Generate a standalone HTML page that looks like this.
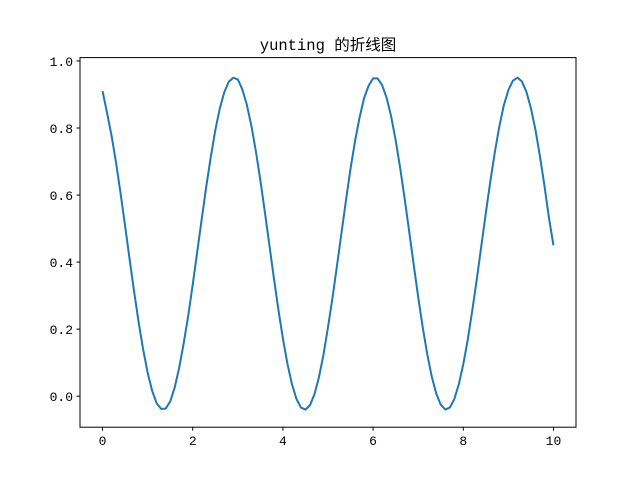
<!DOCTYPE html>
<html><head><meta charset="utf-8"><style>
html,body{margin:0;padding:0;background:#fff;}
svg text{font-family:"WenQuanYi Zen Hei Mono","Liberation Mono","Noto Sans CJK SC",monospace;font-size:13px;fill:#000;}
</style></head><body>
<svg id="chart" width="640" height="480" xmlns="http://www.w3.org/2000/svg">
<rect width="640" height="480" fill="#fff"/>
<text x="328" y="50" text-anchor="middle" style="font-size:15.5px">yunting 的折线图</text>
<g id="ticks"></g>
<path id="line" fill="none" stroke="#1f77b4" stroke-width="2" stroke-linejoin="round"/>
<rect x="80" y="57.6" width="496" height="369.6" fill="none" stroke="#000" stroke-width="1"/>
</svg>
<script>
const xs = [0,0.1,0.2,0.3,0.4,0.5,0.6,0.7,0.8,0.9,1.0,1.1,1.2,1.3,1.4,1.5,1.6,1.7,1.8,1.9,2.0,2.1,2.2,2.3,2.4,2.5,2.6,2.7,2.8,2.9,3.0,3.1,3.2,3.3,3.4,3.5,3.6,3.7,3.8,3.9,4.0,4.1,4.2,4.3,4.4,4.5,4.6,4.7,4.8,4.9,5.0,5.1,5.2,5.3,5.4,5.5,5.6,5.7,5.8,5.9,6.0,6.1,6.2,6.3,6.4,6.5,6.6,6.7,6.8,6.9,7.0,7.1,7.2,7.3,7.4,7.5,7.6,7.7,7.8,7.9,8.0,8.1,8.2,8.3,8.4,8.5,8.6,8.7,8.8,8.9,9.0,9.1,9.2,9.3,9.4,9.5,9.6,9.7,9.8,9.9,10.0];
const ys = [0.91,0.845,0.777,0.696,0.605,0.508,0.409,0.312,0.221,0.140,0.070,0.016,-0.021,-0.038,-0.037,-0.016,0.026,0.085,0.158,0.240,0.333,0.431,0.529,0.625,0.713,0.793,0.858,0.907,0.938,0.950,0.945,0.915,0.869,0.807,0.731,0.644,0.549,0.451,0.352,0.258,0.172,0.097,0.036,-0.008,-0.034,-0.040,-0.027,0.006,0.057,0.124,0.206,0.294,0.390,0.488,0.586,0.679,0.761,0.831,0.889,0.926,0.948,0.948,0.928,0.890,0.835,0.764,0.681,0.589,0.492,0.393,0.296,0.206,0.126,0.059,0.008,-0.025,-0.040,-0.034,-0.009,0.035,0.095,0.169,0.256,0.349,0.448,0.546,0.641,0.728,0.805,0.868,0.913,0.941,0.950,0.939,0.908,0.859,0.795,0.716,0.628,0.532,0.45];
const xTicks = [0,2,4,6,8,10];
const yTicks = [0.0,0.2,0.4,0.6,0.8,1.0];
const L=80,R=576,T=57.6,B=427.2;
const xMin=-0.5,xMax=10.5,yMin=-0.0925,yMax=1.01;
const sx=v=>L+(v-xMin)/(xMax-xMin)*(R-L);
const sy=v=>B-(v-yMin)/(yMax-yMin)*(B-T);
const ns="http://www.w3.org/2000/svg";
const g=document.getElementById('ticks');
xTicks.forEach(t=>{
  const l=document.createElementNS(ns,'line');
  l.setAttribute('x1',sx(t));l.setAttribute('x2',sx(t));l.setAttribute('y1',B);l.setAttribute('y2',B+3.5);l.setAttribute('stroke','#000');
  
  
  g.appendChild(l);
  const tx=document.createElementNS(ns,'text');
  tx.setAttribute('x',sx(t));tx.setAttribute('y',B+18);tx.setAttribute('text-anchor','middle');tx.textContent=t;
  
  
  g.appendChild(tx);
});
yTicks.forEach(t=>{
  const l=document.createElementNS(ns,'line');
  l.setAttribute('x1',L-3.5);l.setAttribute('x2',L);l.setAttribute('y1',sy(t));l.setAttribute('y2',sy(t));l.setAttribute('stroke','#000');
  
  
  g.appendChild(l);
  const tx=document.createElementNS(ns,'text');
  tx.setAttribute('x',L-7);tx.setAttribute('y',sy(t)+5);tx.setAttribute('text-anchor','end');tx.textContent=t.toFixed(1);
  
  
  g.appendChild(tx);
});
document.getElementById('line').setAttribute('d',xs.map((x,i)=>(i?'L':'M')+sx(x).toFixed(2)+','+sy(ys[i]).toFixed(2)).join(''));
</script>
</body></html>
